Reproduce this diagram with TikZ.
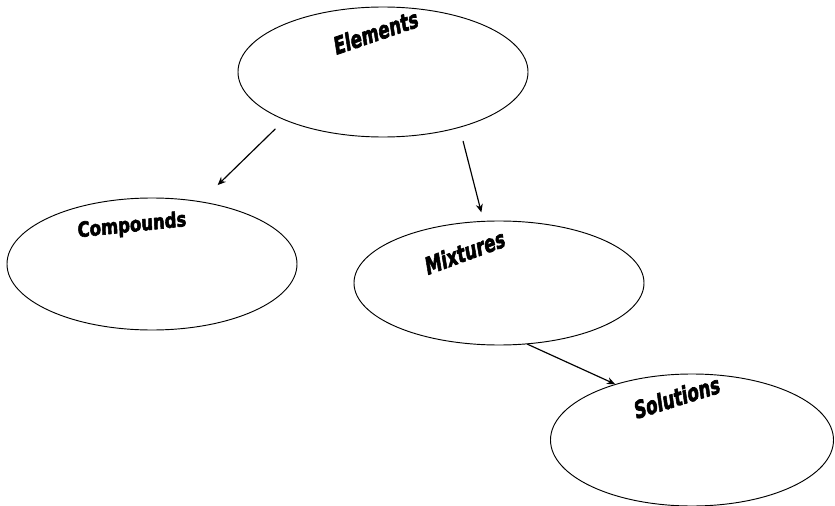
\documentclass[tikz,border=0pt]{standalone}
\usepackage{fontspec}
\setmainfont{Liberation Sans}
\newfontfamily\heavy[BoldFeatures={FakeBold=3}]{DejaVu Sans}
\usetikzlibrary{shapes.geometric,positioning,arrows.meta}
\begin{document}
\begin{tikzpicture}[x=0.03cm,y=-0.03cm,>={Stealth[length=7pt,width=6pt]}, line join=round, line cap=round,
	oval/.style={draw,ellipse,inner sep=0pt,line width=0.8pt},
	word/.style={font=\heavy\bfseries\fontsize{16}{16}\selectfont,inner sep=0pt,xscale=0.88,yscale=1.3}]
	\useasboundingbox (0,0) rectangle (835,506);
	% Ovals
	\node[oval,minimum width=8.7cm,minimum height=3.9cm] (el) at (383,72) {};
	\node[oval,minimum width=8.7cm,minimum height=3.96cm] (comp) at (152,264) {};
	\node[oval,minimum width=8.7cm,minimum height=3.72cm] (mix) at (499,283) {};
	\node[oval,minimum width=8.49cm,minimum height=3.96cm] (sol) at (692,440) {};
	% Words
	\node[word,rotate=13] (lel) at (376,32) {Elements};
	\node[word,rotate=4,yscale=0.85] (lcomp) at (132,226) {Compounds};
	\node[word,rotate=14] (lmix) at (465,252) {Mixtures};
	\node[word,rotate=12] (lsol) at (677,397) {Solutions};
	% Arrows
	\draw[->,line width=1pt,shorten <=11pt,shorten >=20pt] (el.206) -- (comp.52);
	\draw[->,line width=1pt,shorten <=12pt,shorten >=7.5pt] (el.324) -- (mix.104);
	\draw[->,line width=1pt] (mix.295) -- (sol.144);
\end{tikzpicture}
\end{document}
